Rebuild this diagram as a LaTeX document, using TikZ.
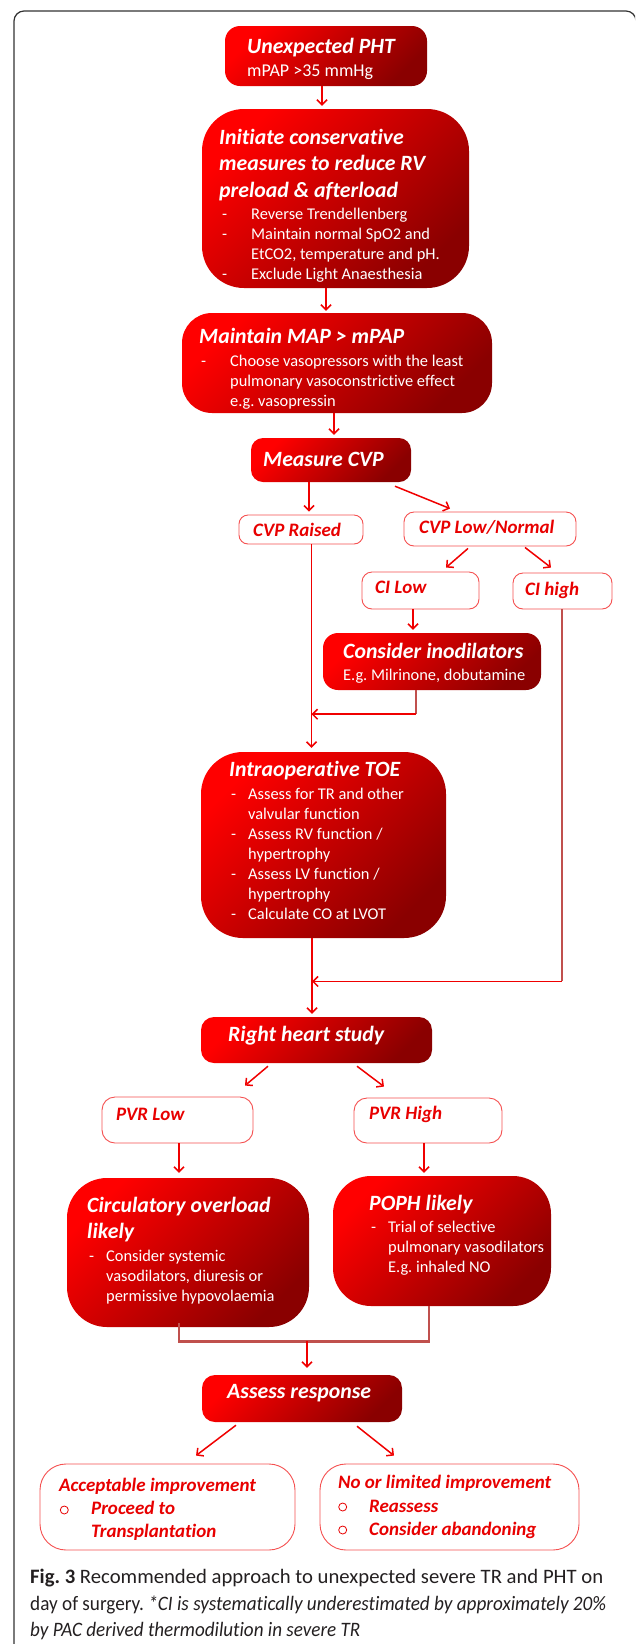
\documentclass[tikz,border=0pt]{standalone}
\usepackage{graphicx}
\usepackage{fontspec}
\setmainfont{Carlito}[Ligatures=NoCommon]
\frenchspacing
\usetikzlibrary{arrows.meta,calc}
\definecolor{brt}{RGB}{255,0,0}
\definecolor{drk}{RGB}{138,0,0}
\definecolor{arrred}{RGB}{240,0,0}
\definecolor{lblred}{RGB}{232,0,0}
\definecolor{bordred}{RGB}{245,80,80}
\definecolor{muted}{RGB}{192,80,77}
\definecolor{captxt}{RGB}{35,31,32}
\definecolor{framec}{RGB}{50,50,50}
\begin{document}
\begin{tikzpicture}[x=1pt,y=-1pt,
  redbox/.style={rectangle, inner sep=0pt, top color=brt, bottom color=drk, shading angle=45},
  whitebox/.style={rectangle, inner sep=0pt, draw=bordred, line width=0.9pt, fill=white},
  ttl/.style={anchor=base west, inner sep=0pt, text=white, font=\fontsize{21.8}{26}\selectfont\bfseries\itshape},
  sub/.style={anchor=base west, inner sep=0pt, text=white, font=\fontsize{16.4}{20}\selectfont},
  sublg/.style={anchor=base west, inner sep=0pt, text=white, font=\fontsize{18}{22}\selectfont},
  lbl/.style={anchor=base west, inner sep=0pt, text=lblred, font=\fontsize{19}{23}\selectfont\bfseries\itshape},
  bcirc/.style={circle, draw=lblred, line width=0.8pt, minimum size=8pt, inner sep=0pt},
  arr/.style={draw=arrred, line width=1.5pt, -{Straight Barb[length=5pt,width=10pt]}},
  mut/.style={draw=muted, line width=2.6pt},
  captext/.style={anchor=base west, inner sep=0pt, text=captxt, font=\fontsize{20.5}{26}\selectfont},
]
\useasboundingbox (0,0) rectangle (635,1644);
\begin{scope}
\clip (0,0) rectangle (635,1644);
\draw[framec, line width=1.2pt, rounded corners=10pt] (14,11) rectangle (636,1700);
\end{scope}

% ---------- boxes ----------
\node[redbox, minimum width=202pt, minimum height=60pt, rounded corners=15pt] (b1) at (326,56) {};
\node[redbox, minimum width=267pt, minimum height=179pt, rounded corners=42pt] (b2) at (335.5,198.5) {};
\node[redbox, minimum width=310pt, minimum height=100pt, rounded corners=30pt] (b3) at (337,363) {};
\node[redbox, minimum width=160pt, minimum height=44pt, rounded corners=12pt] (b4) at (331,460) {};
\node[whitebox, minimum width=124pt, minimum height=29pt, rounded corners=9pt] (b5) at (301,529.5) {};
\node[whitebox, minimum width=172pt, minimum height=34pt, rounded corners=10pt] (b6) at (490,529) {};
\node[whitebox, minimum width=117pt, minimum height=37pt, rounded corners=10pt] (b7) at (420.5,590.5) {};
\node[whitebox, minimum width=99pt, minimum height=36pt, rounded corners=10pt] (b8) at (562.5,591) {};
\node[redbox, minimum width=218pt, minimum height=57pt, rounded corners=15pt] (b9) at (432,661.5) {};
\node[redbox, minimum width=245pt, minimum height=186pt, rounded corners=42pt] (b10) at (323.5,845) {};
\node[redbox, minimum width=231pt, minimum height=46pt, rounded corners=13pt] (b11) at (316.5,1040) {};
\node[whitebox, minimum width=151pt, minimum height=46pt, rounded corners=13pt] (b12) at (177.5,1120) {};
\node[whitebox, minimum width=148pt, minimum height=45pt, rounded corners=13pt] (b13) at (428,1120.5) {};
\node[redbox, minimum width=242pt, minimum height=149pt, rounded corners=40pt] (b14) at (188,1252.5) {};
\node[redbox, minimum width=218pt, minimum height=130pt, rounded corners=38pt] (b15) at (442,1241) {};
\node[redbox, minimum width=200pt, minimum height=47pt, rounded corners=13pt] (b16) at (302,1398.5) {};
\node[whitebox, minimum width=255pt, minimum height=86pt, rounded corners=26pt] (b17) at (167.5,1507) {};
\node[whitebox, minimum width=259pt, minimum height=86pt, rounded corners=26pt] (b18) at (449.5,1507) {};

% ---------- texts ----------
\node[ttl] (t1a) at (247,53) {Unexpected PHT};
\node[sublg] (t1b) at (247,76) {mPAP >35 mmHg};

\node[ttl] (t2a) at (219,144) {Initiate conservative};
\node[ttl] (t2b) at (219,170.5) {measures to reduce RV};
\node[ttl] (t2c) at (219,197) {preload \& afterload};
\node[sub] (d2a) at (222,219) {-};
\node[sub] (d2b) at (222,239) {-};
\node[sub] (d2d) at (222,279) {-};
\node[sub] (s2a) at (251,219) {Reverse Trendellenberg};
\node[sub] (s2b) at (251,239) {Maintain normal SpO2 and};
\node[sub] (s2c) at (251,259) {EtCO2, temperature and pH.};
\node[sub] (s2d) at (251,279) {Exclude Light Anaesthesia};

\node[ttl] (t3a) at (199,343) {Maintain MAP > mPAP};
\node[sub] (d3a) at (201,366) {-};
\node[sub] (s3a) at (230,366) {Choose vasopressors with the least};
\node[sub] (s3b) at (230,386) {pulmonary vasoconstrictive effect};
\node[sub] (s3c) at (230,406) {e.g. vasopressin};

\node[ttl] (t4) at (263,466) {Measure CVP};
\node[lbl] (t5) at (253,536) {CVP Raised};
\node[lbl] (t6) at (419,533) {CVP Low/Normal};
\node[lbl] (t7) at (375,593) {CI Low};
\node[lbl] (t8) at (525,595) {CI high};

\node[ttl] (t9a) at (343,658) {Consider inodilators};
\node[sub] (t9b) at (343,680) {E.g. Milrinone, dobutamine};

\node[ttl] (t10) at (229,776) {Intraoperative TOE};
\node[sub] (d10a) at (231,799) {-};
\node[sub] (d10b) at (231,839) {-};
\node[sub] (d10c) at (231,879) {-};
\node[sub] (d10d) at (231,919) {-};
\node[sub] (s10a) at (248,799) {Assess for TR and other};
\node[sub] (s10b) at (248,819) {valvular function};
\node[sub] (s10c) at (248,839) {Assess RV function /};
\node[sub] (s10d) at (248,859) {hypertrophy};
\node[sub] (s10e) at (248,879) {Assess LV function /};
\node[sub] (s10f) at (248,899) {hypertrophy};
\node[sub] (s10g) at (248,919) {Calculate CO at LVOT};

\node[ttl] (t11) at (228,1041) {Right heart study};
\node[lbl] (t12) at (116,1120) {PVR Low};
\node[lbl] (t13) at (369,1119) {PVR High};

\node[ttl] (t14a) at (87,1212) {Circulatory overload};
\node[ttl] (t14b) at (87,1238) {likely};
\node[sub] (d14) at (89,1261) {-};
\node[sub] (s14a) at (106,1261) {Consider systemic};
\node[sub] (s14b) at (106,1281) {vasodilators, diuresis or};
\node[sub] (s14c) at (106,1301) {permissive hypovolaemia};

\node[ttl] (t15) at (369,1210) {POPH likely};
\node[sub] (d15) at (371,1232) {-};
\node[sub] (s15a) at (388,1232) {Trial of selective};
\node[sub] (s15b) at (388,1252) {pulmonary vasodilators};
\node[sub] (s15c) at (388,1272) {E.g. inhaled NO};

\node[ttl] (t16) at (227,1398) {Assess response};

\node[lbl] (t17a) at (59,1491) {Acceptable improvement};
\node[bcirc] (c17) at (64.3,1510) {};
\node[lbl] (t17b) at (91,1514) {Proceed to};
\node[lbl] (t17c) at (91,1537) {Transplantation};

\node[lbl] (t18a) at (338,1488) {No or limited improvement};
\node[bcirc] (c18a) at (342.7,1507) {};
\node[bcirc] (c18b) at (342.7,1530) {};
\node[lbl] (t18b) at (369,1512) {Reassess};
\node[lbl] (t18c) at (369,1535) {Consider abandoning};

\node[captext] (cap1) at (30,1583) {\resizebox{573pt}{\height}{\textbf{Fig. 3} Recommended approach to unexpected severe TR and PHT on}};
\node[captext] (cap2) at (30,1610) {\resizebox{576pt}{\height}{day of surgery. \textit{*CI is systematically underestimated by approximately 20\%}}};
\node[captext] (cap3) at (30,1636) {\resizebox{330pt}{\height}{\textit{by PAC derived thermodilution in severe TR}}};

% ---------- connectors ----------
\coordinate (v1) at ($(b5.south)+(10.5,0)$);
\coordinate (v2) at ($(b10.south)+(-11.5,0)$);
\coordinate (j1) at ($(b9.south)+(-16,24)$);
\coordinate (j2) at ($(b8.south)+(-0.5,372)$);
\coordinate (j3) at ($(b14.south)+(-9,14.5)$);
\coordinate (j4) at ($(b15.south)+(-13,35.5)$);
\coordinate (j5) at ($(b16.north)+(5,-33.5)$);

\draw[arr] ($(b1.south)+(-4,0)$) -- ($(b2.north)+(-13.5,-3)$);
\draw[arr] ($(b2.south)+(-9.5,0)$) -- ($(b3.north)+(-11,-2)$);
\draw[arr] ($(b3.south)+(-3,0)$) -- ($(b4.north)+(3,-3)$);
\draw[arr] ($(b4.south)+(-22,0)$) -- ($(b5.north)+(8,-3)$);
\draw[arr] ($(b4.south)+(64,4)$) -- ($(b6.north)+(-40,-3)$);
\draw[arr] ($(b6.south)+(-22,2)$) -- ($(b7.north)+(25.5,-4)$);
\draw[arr] ($(b6.south)+(35,1)$) -- ($(b8.north)+(-11.5,-5)$);
\draw[arr] ($(b7.south)+(-7.5,0)$) -- ($(b9.north)+(-19,-3)$);
\draw[arr] (v1) -- ($(b10.north)+(-12,-4)$);
\draw[mut] ($(b9.south)+(-16,0)$) -- (j1);
\draw[arr] (j1) -- (j1 -| v1);
\draw[mut] ($(b8.south)+(-0.5,0)$) -- (j2);
\draw[arr] (v2) -- ($(b11.north)+(-4.5,-3)$);
\draw[arr] (j2) -- (j2 -| v2);
\draw[arr] ($(b11.south)+(-48.5,3)$) -- ($(b12.north)+(67.5,-11)$);
\draw[arr] ($(b11.south)+(40.5,3)$) -- ($(b13.north)+(-44,-11)$);
\draw[arr] ($(b12.south)+(1.5,0)$) -- ($(b14.north)+(-9,-5)$);
\draw[arr] ($(b13.south)+(-4,0)$) -- ($(b15.north)+(-18,-3)$);
\draw[mut] ($(b14.south)+(-9,-4)$) -- (j3) -- (j4) -- ($(b15.south)+(-13,0)$);
\draw[arr] (j5) -- ($(b16.north)+(5,-7)$);
\draw[arr] ($(b16.south)+(-66,3)$) -- ($(b17.north)+(28.5,-8)$);
\draw[arr] ($(b16.south)+(55,4)$) -- ($(b18.north)+(-55.5,-8)$);
\end{tikzpicture}
\end{document}
